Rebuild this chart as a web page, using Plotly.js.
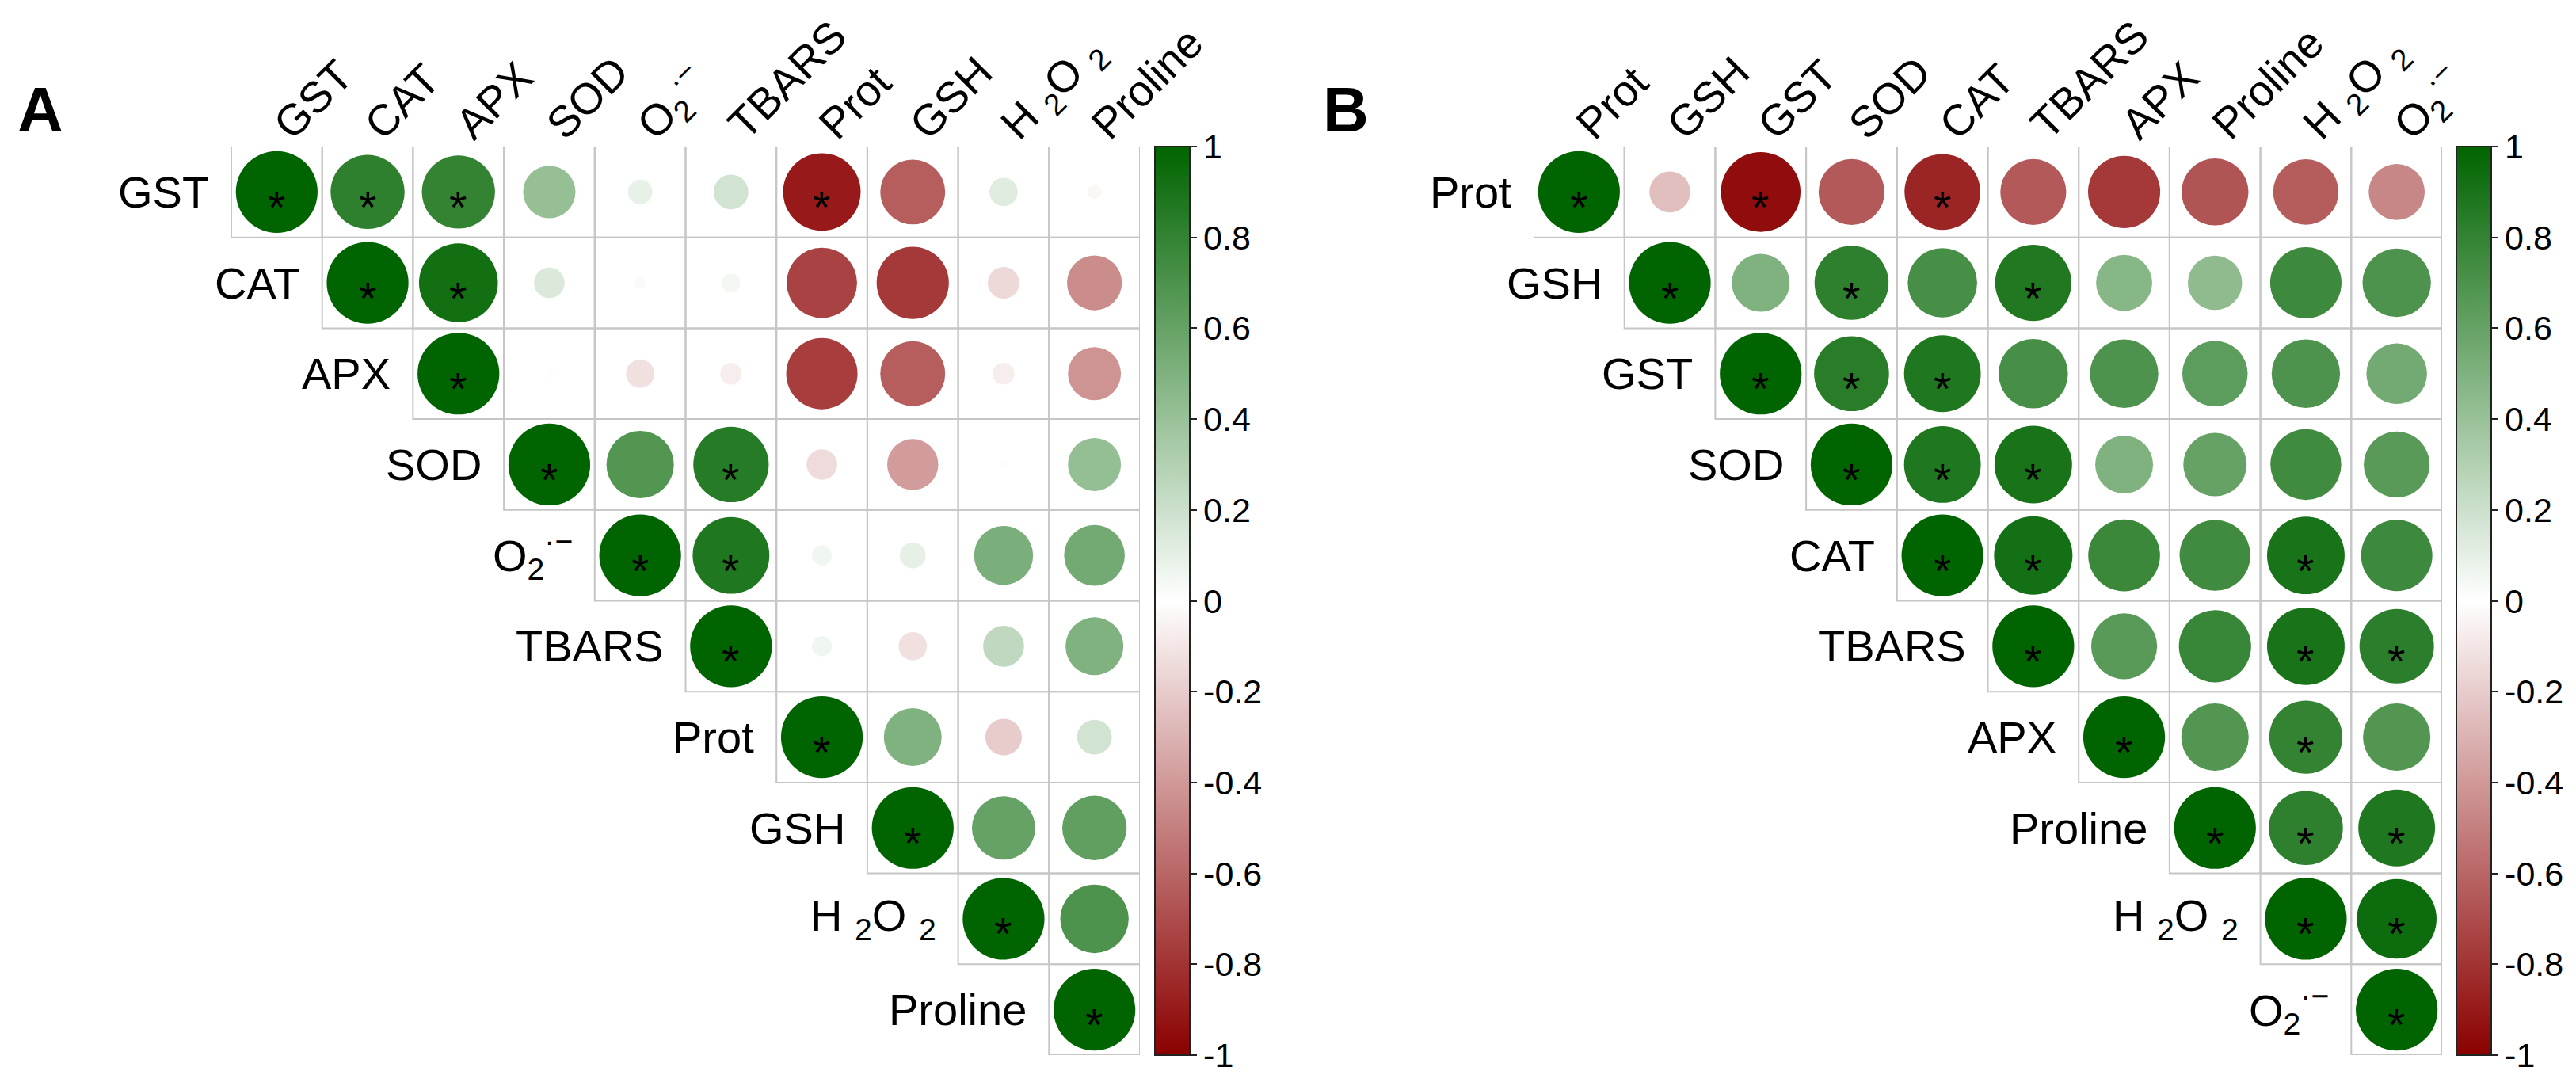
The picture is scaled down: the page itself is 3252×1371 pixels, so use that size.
<!DOCTYPE html>
<html>
<head>
<meta charset="utf-8">
<script src="https://cdn.plot.ly/plotly-3.0.1.min.js"></script>
<style>html,body{margin:0;padding:0;background:#fff;}</style>
</head>
<body>
<div id="chart" style="width:3252px;height:1371px;"></div>
<script>
// ---------------- DATA ----------------
// Panel A variable order
const varsA = ['GST', 'CAT', 'APX', 'SOD', 'O2', 'TBARS', 'Prot', 'GSH', 'H2O2', 'Proline'];
const labelsA = ['GST', 'CAT', 'APX', 'SOD', 'O<sub>2</sub><sup>·−</sup>', 'TBARS', 'Prot', 'GSH', 'H <sub>2</sub>O <sub>2</sub>', 'Proline'];
// Panel B variable order
const varsB = ['Prot', 'GSH', 'GST', 'SOD', 'CAT', 'TBARS', 'APX', 'Proline', 'H2O2', 'O2'];
const labelsB = ['Prot', 'GSH', 'GST', 'SOD', 'CAT', 'TBARS', 'APX', 'Proline', 'H <sub>2</sub>O <sub>2</sub>', 'O<sub>2</sub><sup>·−</sup>'];

// Upper-triangle correlations, each row starts at the diagonal
const corrA_GST     = [1, 0.82, 0.80, 0.41, 0.09, 0.18, -0.90, -0.63, 0.12, -0.03];
const corrA_CAT     = [1, 0.93, 0.14, -0.02, 0.05, -0.74, -0.78, -0.15, -0.45];
const corrA_APX     = [1, 0.01, -0.12, -0.07, -0.76, -0.63, -0.07, -0.42];
const corrA_SOD     = [1, 0.68, 0.85, -0.14, -0.39, -0.01, 0.42];
const corrA_O2      = [1, 0.88, 0.06, 0.10, 0.52, 0.55];
const corrA_TBARS   = [1, 0.06, -0.12, 0.25, 0.50];
const corrA_Prot    = [1, 0.50, -0.20, 0.18];
const corrA_GSH     = [1, 0.60, 0.62];
const corrA_H2O2    = [1, 0.70];
const corrA_Proline = [1];

// significance flags (1 = "*"), same layout as the rows above
const sigA_GST     = [1, 1, 1, 0, 0, 0, 1, 0, 0, 0];
const sigA_CAT     = [1, 1, 0, 0, 0, 0, 0, 0, 0];
const sigA_APX     = [1, 0, 0, 0, 0, 0, 0, 0];
const sigA_SOD     = [1, 0, 1, 0, 0, 0, 0];
const sigA_O2      = [1, 1, 0, 0, 0, 0];
const sigA_TBARS   = [1, 0, 0, 0, 0];
const sigA_Prot    = [1, 0, 0, 0];
const sigA_GSH     = [1, 0, 0];
const sigA_H2O2    = [1, 0];
const sigA_Proline = [1];

const corrB_Prot    = [1, -0.25, -0.95, -0.65, -0.86, -0.65, -0.78, -0.67, -0.64, -0.47];
const corrB_GSH     = [1, 0.50, 0.82, 0.72, 0.87, 0.47, 0.44, 0.76, 0.70];
const corrB_GST     = [1, 0.84, 0.88, 0.72, 0.70, 0.64, 0.70, 0.55];
const corrB_SOD     = [1, 0.88, 0.90, 0.50, 0.60, 0.75, 0.65];
const corrB_CAT     = [1, 0.92, 0.77, 0.75, 0.90, 0.76];
const corrB_TBARS   = [1, 0.65, 0.78, 0.90, 0.83];
const corrB_APX     = [1, 0.68, 0.80, 0.68];
const corrB_Proline = [1, 0.82, 0.88];
const corrB_H2O2    = [1, 0.95];
const corrB_O2      = [1];

const sigB_Prot    = [1, 0, 1, 0, 1, 0, 0, 0, 0, 0];
const sigB_GSH     = [1, 0, 1, 0, 1, 0, 0, 0, 0];
const sigB_GST     = [1, 1, 1, 0, 0, 0, 0, 0];
const sigB_SOD     = [1, 1, 1, 0, 0, 0, 0];
const sigB_CAT     = [1, 1, 0, 0, 1, 0];
const sigB_TBARS   = [1, 0, 0, 1, 1];
const sigB_APX     = [1, 0, 1, 0];
const sigB_Proline = [1, 1, 1];
const sigB_H2O2    = [1, 1];
const sigB_O2      = [1];

const cbTickVals = [1, 0.8, 0.6, 0.4, 0.2, 0, -0.2, -0.4, -0.6, -0.8, -1];
const cbTickText = ['1', '0.8', '0.6', '0.4', '0.2', '0', '-0.2', '-0.4', '-0.6', '-0.8', '-1'];

// ---------------- LAYOUT / STYLE ----------------
const W = 3252, H = 1371;
const FONT = 'Arial, "Liberation Sans", sans-serif';
const gridTop = 185, gridBottom = 1332;
const domY = [1 - gridBottom / H, 1 - gridTop / H];
const domXA = [292 / W, 1439 / W];
const domXB = [1936 / W, 3083 / W];
const colorscale = [[0, '#8B0000'], [0.5, '#FFFFFF'], [1, '#006400']];

const rowsA = [corrA_GST, corrA_CAT, corrA_APX, corrA_SOD, corrA_O2, corrA_TBARS, corrA_Prot, corrA_GSH, corrA_H2O2, corrA_Proline];
const sigsA = [sigA_GST, sigA_CAT, sigA_APX, sigA_SOD, sigA_O2, sigA_TBARS, sigA_Prot, sigA_GSH, sigA_H2O2, sigA_Proline];
const rowsB = [corrB_Prot, corrB_GSH, corrB_GST, corrB_SOD, corrB_CAT, corrB_TBARS, corrB_APX, corrB_Proline, corrB_H2O2, corrB_O2];
const sigsB = [sigB_Prot, sigB_GSH, sigB_GST, sigB_SOD, sigB_CAT, sigB_TBARS, sigB_APX, sigB_Proline, sigB_H2O2, sigB_O2];

const traces = [];
const shapes = [];
const annotations = [];

function buildPanel(vars, labels, rows, sigs, xref, yref, domX, cbX) {
  const n = vars.length;
  const cellPx = (domX[1] - domX[0]) * W / n;
  const xs = [], ys = [], sizes = [], cols = [];
  const sx = [], sy = [];
  rows.forEach((row, i) => {
    row.forEach((v, k) => {
      const j = i + k;
      xs.push(j); ys.push(i);
      sizes.push(0.9 * Math.sqrt(Math.abs(v)) * cellPx);
      cols.push(v);
      shapes.push({type: 'rect', xref: xref, yref: yref,
        x0: j - 0.5, x1: j + 0.5, y0: i - 0.5, y1: i + 0.5,
        line: {color: '#c6c6c6', width: 2}, layer: 'below'});
      if (sigs[i][k]) {
        annotations.push({xref: xref, yref: yref, x: j, y: i, text: '*', showarrow: false,
          font: {family: FONT, size: 58, color: '#000'}, yshift: -19});
      }
    });
    annotations.push({xref: xref, yref: yref, x: i - 0.5, y: i, text: labels[i], showarrow: false,
      xanchor: 'right', xshift: -26, font: {family: FONT, size: 56, color: '#000'}});
  });
  traces.push({
    type: 'scatter', mode: 'markers', x: xs, y: ys,
    xaxis: xref, yaxis: yref, hoverinfo: 'none',
    marker: {size: sizes, sizemode: 'diameter', color: cols, cmin: -1, cmax: 1,
      colorscale: colorscale, opacity: 1, line: {width: 0},
      colorbar: {x: cbX, xanchor: 'left', xpad: 0, ypad: 0,
        y: 1 - (gridTop + gridBottom) / 2 / H, yanchor: 'middle',
        len: gridBottom - gridTop, lenmode: 'pixels', thickness: 44, thicknessmode: 'pixels',
        outlinewidth: 2, outlinecolor: '#222', borderwidth: 0,
        tickmode: 'array', tickvals: cbTickVals, ticktext: cbTickText,
        ticks: 'outside', ticklen: 8, tickwidth: 2, tickcolor: '#222',
        tickfont: {family: FONT, size: 43, color: '#000'}}},
    showlegend: false
  });
}

buildPanel(varsA, labelsA, rowsA, sigsA, 'x', 'y', domXA, 1458 / W);
buildPanel(varsB, labelsB, rowsB, sigsB, 'x2', 'y2', domXB, 3101 / W);

const tickIdx = varsA.map((_, i) => i);
function xAxis(domX, anchor, labels) {
  return {domain: domX, anchor: anchor, side: 'top', range: [-0.5, 9.5],
    tickmode: 'array', tickvals: tickIdx, ticktext: labels, tickangle: -45,
    ticks: '', ticklabelstandoff: -14, showgrid: false, zeroline: false, showline: false, fixedrange: true,
    tickfont: {family: FONT, size: 55, color: '#000'}};
}
function yAxis(anchor) {
  return {domain: domY, anchor: anchor, range: [9.5, -0.5], visible: false,
    showgrid: false, zeroline: false, fixedrange: true};
}

annotations.push({xref: 'paper', yref: 'paper', x: 20 / W, y: 1 - 139 / H, xanchor: 'left', yanchor: 'middle',
  text: '<b>A</b>', showarrow: false, font: {family: FONT, size: 80, color: '#000'}});
annotations.push({xref: 'paper', yref: 'paper', x: 1668 / W, y: 1 - 139 / H, xanchor: 'left', yanchor: 'middle',
  text: '<b>B</b>', showarrow: false, font: {family: FONT, size: 80, color: '#000'}});

const layout = {
  width: W, height: H,
  margin: {l: 0, r: 0, t: 0, b: 0},
  paper_bgcolor: '#fff', plot_bgcolor: 'rgba(0,0,0,0)',
  showlegend: false,
  xaxis: xAxis(domXA, 'y', labelsA),
  yaxis: yAxis('x'),
  xaxis2: xAxis(domXB, 'y2', labelsB),
  yaxis2: yAxis('x2'),
  shapes: shapes,
  annotations: annotations,
  font: {family: FONT, color: '#000'}
};

Plotly.newPlot('chart', traces, layout, {displayModeBar: false, staticPlot: true});
</script>
</body>
</html>
